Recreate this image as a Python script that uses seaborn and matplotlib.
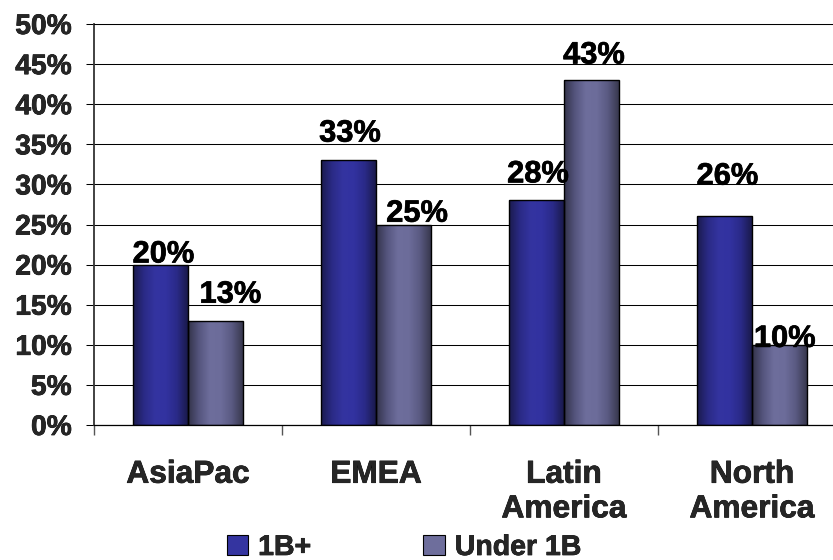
import numpy as np
import pandas as pd
import matplotlib
matplotlib.use("Agg")
import matplotlib.pyplot as plt
import matplotlib.patheffects as pe
import seaborn as sns
from matplotlib.colors import LinearSegmentedColormap
from matplotlib.patches import Patch

# ---------------- data ----------------
categories = ["AsiaPac", "EMEA", "Latin\nAmerica", "North\nAmerica"]
series_names = ["1B+", "Under 1B"]
values_1b_plus = [20, 33, 28, 26]
values_under_1b = [13, 25, 43, 10]
y_ticks = [0, 5, 10, 15, 20, 25, 30, 35, 40, 45, 50]

# ---------------- style ----------------
sns.set_theme(style="white")
plt.rcParams["font.family"] = ["Liberation Sans", "DejaVu Sans"]
plt.rcParams["font.weight"] = "bold"
bold_fx = [pe.withStroke(linewidth=0.5, foreground="black")]

base_colors = {"1B+": "#2E2E96", "Under 1B": "#66669A"}
grad_stops = {
    "1B+": ["#1B1B4E", "#2A2A86", "#3434A0", "#3232A0", "#2A2A88", "#1A1A4C"],
    "Under 1B": ["#33334A", "#55557E", "#6E6E9C", "#6C6C9A", "#5A5A82", "#38384E"],
}
# label offsets (points) relative to bar centre / bar top, per series
label_dx = {"1B+": [2, 1, 1, 2], "Under 1B": [11, 10, 2, 4]}
label_dy = {"1B+": [1.5, 13.5, 13, 23], "Under 1B": [13, 2, 12, -1.5]}

df = pd.DataFrame({
    "region": categories * 2,
    "series": [series_names[0]] * 4 + [series_names[1]] * 4,
    "value": values_1b_plus + values_under_1b,
})

fig = plt.figure(figsize=(8.33, 5.6), dpi=100)
ax = fig.add_axes([94 / 833, 1 - 425 / 560, 752 / 833, 401 / 560])

sns.barplot(data=df, x="region", y="value", hue="series", order=categories,
            hue_order=series_names, palette=base_colors, width=0.58,
            edgecolor="black", linewidth=1.0, ax=ax, legend=False, errorbar=None)

# gradient fills, clipped to each bar
bars_by_series = []
for i, cont in enumerate(ax.containers):
    name = series_names[i]
    cmap = LinearSegmentedColormap.from_list(name, grad_stops[name])
    grad = np.linspace(0, 1, 200).reshape(1, -1)
    for p in cont.patches:
        x0, y0 = p.get_x(), p.get_y()
        w, h = p.get_width(), p.get_height()
        im = ax.imshow(grad, cmap=cmap, aspect="auto",
                       extent=(x0, x0 + w, y0, y0 + h), zorder=p.get_zorder() - 0.01,
                       interpolation="bilinear")
        im.set_clip_path(p)
        p.set_facecolor("none")
        p.set_zorder(im.get_zorder() + 0.02)
    bars_by_series.append(cont.patches)
ax.set_xlim(-0.5, 3.5)
ax.set_ylim(0, 50)

# value labels
for i, patches in enumerate(bars_by_series):
    name = series_names[i]
    vals = values_1b_plus if i == 0 else values_under_1b
    for j, p in enumerate(patches):
        cx = p.get_x() + p.get_width() / 2
        top = p.get_height()
        ax.annotate(f"{vals[j]}%", (cx, top),
                    xytext=(label_dx[name][j], label_dy[name][j]),
                    textcoords="offset points", ha="center", va="baseline",
                    fontsize=22.2, fontweight="bold", color="black", zorder=10,
                    path_effects=bold_fx)

# grid & spines
ax.set_axisbelow(True)
ax.yaxis.grid(True, color="black", linewidth=0.75)
ax.xaxis.grid(False)
ax.spines["right"].set_visible(False)
ax.spines["top"].set_color("black")
ax.spines["top"].set_linewidth(0.75)
ax.spines["bottom"].set_color("black")
ax.spines["bottom"].set_linewidth(0.9)
ax.spines["left"].set_color("#333333")
ax.spines["left"].set_linewidth(1.3)

# y axis
ax.set_yticks(y_ticks)
ax.set_yticklabels([f"{t}%" for t in y_ticks], fontsize=20.3, fontweight="bold")
ax.tick_params(axis="y", direction="out", length=6, width=0.75, color="black",
               pad=10, left=True)

# x axis: labels at centres, tick marks at boundaries
ax.set_xticks(range(len(categories)))
ax.set_xticklabels(categories, fontsize=22.8, fontweight="bold", linespacing=1.2,
                   va="top")
ax.set_xticks([k - 0.5 for k in range(len(categories) + 1)], minor=True)
ax.tick_params(axis="x", which="major", length=0, pad=25)
ax.tick_params(axis="x", which="minor", direction="out", length=7.5, width=1.0,
               color="#555555", bottom=True)
ax.set_xlabel("")
ax.set_ylabel("")
for t in ax.get_xticklabels() + ax.get_yticklabels():
    t.set_path_effects(bold_fx)

# legend
handles = [Patch(facecolor=grad_stops[n][2], edgecolor="black", linewidth=0.8, label=n)
           for n in series_names]
leg = fig.legend(handles=handles, loc="center", bbox_to_anchor=(404 / 833, 1 - 548 / 560),
                 ncol=2, frameon=False, prop={"size": 20.5, "weight": "bold"},
                 handlelength=0.75, handleheight=0.7, handletextpad=0.35,
                 columnspacing=3.95, borderpad=0, borderaxespad=0)
for t in leg.get_texts():
    t.set_path_effects(bold_fx)

fig.savefig("out.png", dpi=100)
